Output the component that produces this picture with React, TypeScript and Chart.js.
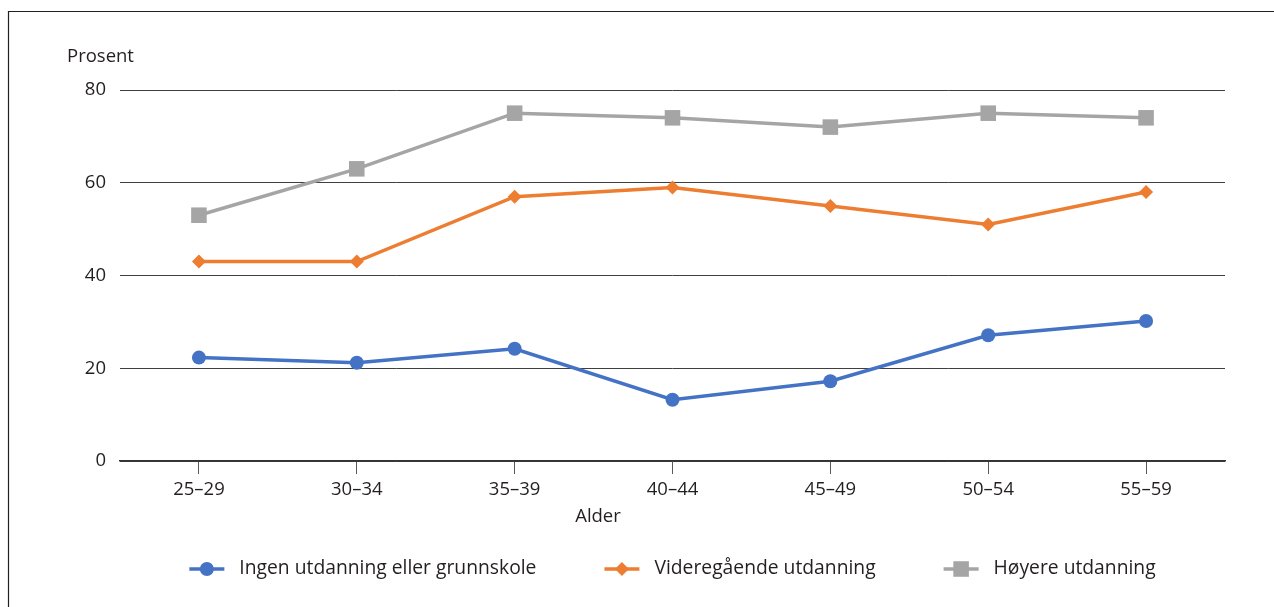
import React, { useEffect, useRef } from "react";
import { Chart, registerables } from "chart.js";
Chart.register(...registerables);

const categories = ["25–29", "30–34", "35–39", "40–44", "45–49", "50–54", "55–59"];
const ingenValues = [22.3, 21.2, 24.2, 13.2, 17.2, 27.1, 30.2];
const videregaendeValues = [43, 43, 57, 59, 55, 51, 58];
const hoyereValues = [53, 63, 75, 74, 72, 75, 74];
const seriesNames = ["Ingen utdanning eller grunnskole", "Videregående utdanning", "Høyere utdanning"];
const yTicks = [0, 20, 40, 60, 80];
const yTitle = "Prosent";
const xTitle = "Alder";

const FONT = "'Open Sans', sans-serif";
const TEXT = "#231f20";
const FS = 18.5;
const LFS = 19.3;

const overlay = {
  id: "overlay",
  beforeDraw(chart: any) {
    const ctx = chart.ctx;
    ctx.save();
    ctx.fillStyle = "#fff";
    ctx.fillRect(0, 0, chart.width, chart.height);
    ctx.strokeStyle = "#231f20";
    ctx.lineWidth = 1.2;
    ctx.beginPath();
    ctx.moveTo(8.5, chart.height + 5);
    ctx.lineTo(8.5, 11.5);
    ctx.lineTo(chart.width + 5, 11.5);
    ctx.stroke();
    ctx.restore();
  },
  afterDraw(chart: any) {
    const ctx = chart.ctx;
    const area = chart.chartArea;
    ctx.save();
    ctx.fillStyle = TEXT;
    ctx.font = `${FS}px ${FONT}`;
    ctx.textBaseline = "middle";
    ctx.textAlign = "left";
    ctx.fillText(yTitle, 67, 57);
    ctx.textAlign = "center";
    ctx.fillText(xTitle, 598, 517);

    // legend
    ctx.font = `${LFS}px ${FONT}`;
    const lineLen = 35;
    const gapText = 15;
    const gapItem = 68;
    const ds = chart.data.datasets;
    const widths = ds.map((d: any) => lineLen + gapText + ctx.measureText(d.label).width);
    const total = widths.reduce((a: number, b: number) => a + b, 0) + gapItem * (ds.length - 1);
    let x = (area.left + area.right) / 2 - total / 2;
    const y = 569;
    ds.forEach((d: any, i: number) => {
      ctx.strokeStyle = d.borderColor;
      ctx.lineWidth = 3.5;
      ctx.beginPath();
      ctx.moveTo(x, y);
      ctx.lineTo(x + lineLen, y);
      ctx.stroke();
      ctx.fillStyle = d.backgroundColor;
      const cx = x + lineLen / 2;
      ctx.beginPath();
      if (d.pointStyle === "circle") {
        ctx.arc(cx, y, d.pointRadius, 0, Math.PI * 2);
      } else if (d.pointStyle === "rectRot") {
        const r = d.pointRadius;
        ctx.moveTo(cx, y - r);
        ctx.lineTo(cx + r, y);
        ctx.lineTo(cx, y + r);
        ctx.lineTo(cx - r, y);
        ctx.closePath();
      } else {
        const s = d.pointRadius * Math.SQRT2;
        ctx.rect(cx - s / 2, y - s / 2, s, s);
      }
      ctx.fill();
      ctx.fillStyle = TEXT;
      ctx.textAlign = "left";
      ctx.fillText(d.label, x + lineLen + gapText, y);
      x += widths[i] + gapItem;
    });
    ctx.restore();
  },
};

export default function App() {
  const ref = useRef<HTMLCanvasElement>(null);
  useEffect(() => {
    if (!ref.current) return;
    const chart = new Chart(ref.current, {
      type: "line",
      data: {
        labels: categories,
        datasets: [
          {
            label: seriesNames[0],
            data: ingenValues,
            borderColor: "#4472C4",
            backgroundColor: "#4472C4",
            pointStyle: "circle",
            pointRadius: 7,
            pointHoverRadius: 7,
            borderWidth: 3.5,
            pointBorderWidth: 0,
          },
          {
            label: seriesNames[1],
            data: videregaendeValues,
            borderColor: "#ED7D31",
            backgroundColor: "#ED7D31",
            pointStyle: "rectRot",
            pointRadius: 7,
            pointHoverRadius: 7,
            borderWidth: 3.5,
            pointBorderWidth: 0,
          },
          {
            label: seriesNames[2],
            data: hoyereValues,
            borderColor: "#A5A5A5",
            backgroundColor: "#A5A5A5",
            pointStyle: "rect",
            pointRadius: 11,
            pointHoverRadius: 11,
            borderWidth: 3.5,
            pointBorderWidth: 0,
          },
        ],
      },
      options: {
        animation: false,
        responsive: false,
        devicePixelRatio: 1,
        layout: { padding: { left: 60, right: 49, top: 90, bottom: 0 } },
        plugins: { legend: { display: false }, tooltip: { enabled: false } },
        scales: {
          x: {
            offset: true,
            grid: {
              offset: false,
              drawOnChartArea: false,
              drawTicks: true,
              tickLength: 13,
              color: "#595959",
            },
            border: { display: true, color: "#333", width: 1.5 },
            ticks: { color: TEXT, font: { family: FONT, size: FS }, padding: 5, maxRotation: 0 },
            afterFit: (s: any) => {
              s.height = 146;
            },
          },
          y: {
            min: 0,
            max: 80,
            afterBuildTicks: (s: any) => {
              s.ticks = yTicks.map((v) => ({ value: v }));
            },
            grid: { color: "#3f3f3f", lineWidth: 1, drawTicks: false },
            border: { display: false },
            ticks: { color: TEXT, font: { family: FONT, size: FS }, padding: 14 },
            afterFit: (s: any) => {
              s.width = 60;
            },
          },
        },
      },
      plugins: [overlay],
    });
    return () => chart.destroy();
  }, []);
  return (
    <div style={{ position: "fixed", left: 0, top: 0, width: 1274, height: 607, overflow: "hidden" }}>
      <canvas ref={ref} width={1274} height={607} style={{ width: 1274, height: 607, display: "block" }} />
    </div>
  );
}
